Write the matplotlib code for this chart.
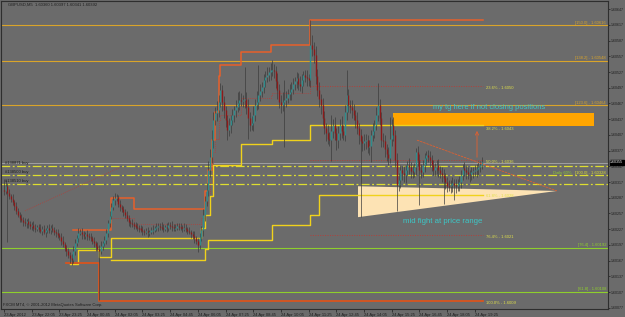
import matplotlib
matplotlib.use("Agg")
import matplotlib.pyplot as plt
from matplotlib.patches import Polygon, Rectangle
import matplotlib.transforms as mtrans
import numpy as np

plt.rcParams['font.family'] = ['Liberation Sans', 'DejaVu Sans']

# ---------------- data (prices in points above 1.60000) ----------------
first_open = 302
closes = [
    300, 310, 296, 290, 285, 278, 272, 262, 255, 248,
    245, 240, 238, 242, 236, 233, 235, 230, 228, 231,
    227, 224, 228, 222, 226, 229, 225, 230, 226, 222,
    220, 216, 213, 205, 198, 192, 185, 178, 172, 168,
    185, 200, 210, 220, 222, 217, 214, 218, 215, 213,
    210, 205, 200, 195, 190, 186, 195, 200, 206, 220,
    238, 252, 270, 283, 287, 288, 275, 270, 266, 260,
    255, 248, 241, 238, 236, 235, 232, 230, 229, 226,
    223, 222, 224, 221, 222, 225, 226, 229, 231, 233,
    232, 230, 228, 231, 230, 235, 233, 231, 229, 230,
    233, 232, 231, 229, 230, 227, 224, 222, 218, 215,
    210, 204, 197, 212, 225, 254, 280, 302, 340, 365,
    397, 435, 448, 454, 470, 493, 470, 454, 435, 416,
    425, 435, 445, 454, 460, 468, 474, 472, 474, 476,
    460, 440, 426, 430, 445, 464, 470, 483, 490, 498,
    512, 518, 522, 527, 530, 531, 528, 510, 493, 470,
    464, 470, 474, 478, 485, 489, 495, 505, 510, 515,
    505, 500, 512, 521, 518, 515, 512, 578, 570, 559,
    520, 493, 475, 464, 440, 420, 410, 400, 397, 415,
    426, 410, 397, 410, 426, 415, 407, 450, 483, 464,
    460, 454, 445, 435, 420, 407, 395, 391, 395, 397,
    384, 386, 407, 415, 426, 445, 464, 440, 397, 395,
    380, 370, 363, 400, 426, 407, 360, 311, 320, 340,
    335, 330, 340, 349, 345, 338, 336, 345, 374, 360,
    340, 336, 350, 362, 369, 365, 359, 350, 340, 345,
    350, 340, 335, 330, 325, 318, 310, 309, 312, 315,
    312, 309, 313, 317, 330, 344, 340, 336, 332, 330,
    336, 338, 340, 342, 346, 350, 355,
]
up_wick = [
    20, 10, 6, 8, 5, 9, 4, 7, 6, 5,
    8, 5, 9, 4, 6, 7, 5, 8, 6, 4,
    6, 9, 5, 7, 4, 6, 8, 5, 7, 6,
    5, 7, 4, 6, 9, 5, 4, 6, 5, 8,
    10, 8, 6, 9, 5, 7, 6, 4, 8, 5,
    6, 5, 8, 4, 7, 6, 9, 5, 8, 7,
    6, 9, 7, 8, 10, 6, 5, 7, 4, 6,
    5, 7, 6, 4, 8, 5, 6, 7, 5, 6,
    7, 5, 6, 8, 4, 6, 9, 5, 7, 6,
    5, 8, 6, 4, 7, 5, 6, 9, 5, 6,
    6, 5, 7, 4, 8, 6, 5, 7, 4, 6,
    8, 5, 6, 7, 9, 12, 10, 14, 18, 15,
    20, 15, 12, 18, 14, 13, 10, 12, 8, 10,
    15, 10, 12, 9, 14, 20, 16, 12, 10, 60,
    12, 15, 10, 14, 18, 12, 20, 57, 14, 10,
    12, 10, 15, 9, 14, 19, 12, 10, 15, 12,
    14, 18, 38, 12, 10, 15, 12, 10, 8, 12,
    10, 14, 12, 8, 10, 12, 9, 49, 20, 15,
    18, 12, 15, 10, 14, 12, 10, 15, 12, 30,
    12, 15, 10, 14, 12, 18, 10, 15, 48, 12,
    10, 14, 12, 9, 15, 10, 12, 10, 14, 12,
    10, 12, 9, 14, 10, 15, 42, 12, 10, 14,
    12, 10, 14, 41, 12, 15, 10, 12, 14, 10,
    8, 12, 10, 9, 14, 10, 12, 9, 8, 12,
    10, 12, 9, 11, 8, 10, 12, 9, 10, 8,
    9, 11, 8, 10, 12, 9, 8, 10, 9, 11,
    8, 10, 9, 12, 10, 8, 11, 9, 10, 8,
    9, 8, 10, 9, 11, 8, 10,
]
dn_wick = [
    8, 6, 93, 5, 7, 4, 9, 6, 5, 8,
    5, 7, 4, 9, 6, 5, 8, 6, 7, 5,
    6, 4, 8, 5, 9, 6, 5, 7, 4, 6,
    7, 5, 6, 8, 5, 7, 9, 6, 9, 10,
    6, 8, 5, 7, 4, 9, 6, 5, 8, 6,
    5, 7, 6, 9, 5, 94, 6, 8, 5, 7,
    8, 6, 5, 7, 9, 6, 5, 8, 6, 7,
    6, 5, 8, 6, 4, 7, 5, 6, 8, 5,
    7, 6, 5, 8, 6, 4, 7, 5, 6, 8,
    6, 5, 7, 4, 8, 6, 5, 7, 6, 5,
    5, 7, 6, 8, 5, 6, 7, 5, 8, 6,
    9, 6, 14, 7, 8, 10, 12, 9, 11, 14,
    12, 15, 10, 14, 12, 10, 18, 15, 12, 19,
    12, 15, 10, 14, 12, 9, 14, 10, 12, 15,
    14, 40, 12, 10, 15, 12, 10, 14, 12, 10,
    12, 14, 10, 12, 15, 10, 12, 14, 18, 12,
    15, 12, 86, 14, 10, 12, 15, 10, 12, 14,
    12, 10, 14, 12, 10, 15, 12, 14, 12, 15,
    15, 12, 14, 18, 15, 12, 14, 10, 12, 40,
    14, 12, 18, 15, 12, 14, 10, 12, 15, 14,
    12, 15, 10, 14, 12, 18, 145, 15, 12, 14,
    12, 15, 30, 12, 14, 10, 12, 15, 14, 12,
    15, 12, 14, 10, 15, 12, 14, 49, 12, 15,
    14, 12, 15, 10, 12, 14, 12, 10, 14, 12,
    66, 12, 10, 14, 12, 10, 14, 12, 10, 12,
    12, 14, 10, 12, 50, 14, 12, 10, 12, 14,
    29, 12, 10, 14, 12, 10, 12, 14, 10, 12,
    10, 12, 10, 14, 12, 10, 8,
]

# stepped indicator lines (bar where a level starts, level in points)
orange_bars = [40, 62, 75, 114, 116, 118, 120, 122, 124, 125, 137, 154, 177, 277]
orange_lvls = [225, 287, 265, 265, 300, 340, 397, 450, 520, 540, 565, 578, 627, 627]
red_low_bars = [36, 55, 277]
red_low_lvls = [163, 90, 90]
yellow_u_bars = [38, 43, 55, 62, 114, 116, 119, 121, 137, 155, 177, 277]
yellow_u_lvls = [160, 187, 174, 210, 230, 254, 290, 350, 389, 397, 426, 426]
yellow_l_bars = [62, 116, 118, 155, 177, 182, 277]
yellow_l_lvls = [168, 190, 206, 235, 254, 293, 293]

# fibonacci retracement (low bar 55 .. high bar 177)
fib_low, fib_high = 90, 627
fib_pcts = [23.6, 38.2, 50.0, 61.8, 76.4, 100.0]
fib_texts = ["23.6% - 1.6050", "38.2% - 1.6043", "50.0% - 1.6036",
             "61.8% - 1.6028", "76.4% - 1.6021", "100.0% - 1.6009"]

# full-width horizontal levels
hl_lvls = [616, 548, 464, 192, 108]
hl_texts = ["[150.0] - 1.60616", "[138.2] - 1.60548", "[123.6] - 1.60464",
            "[76.4] - 1.60192", "[61.8] - 1.60108"]
hl_colors = ['#d9a42a', '#d9a42a', '#d9a42a', '#8fcf2c', '#8fcf2c']
dash_lvls = [348, 330, 313]
bid_lvl = 354
current_price = 355
order_texts = ["#138871 buy", "#138500 buy", "#138510 buy"]

price_ticks = [647 - 30 * k for k in range(20)]
time_labels = ["23 Apr 2012", "23 Apr 22:05", "23 Apr 23:25", "24 Apr 00:45",
               "24 Apr 02:05", "24 Apr 03:25", "24 Apr 04:45", "24 Apr 06:05",
               "24 Apr 07:25", "24 Apr 08:45", "24 Apr 10:05", "24 Apr 11:25",
               "24 Apr 12:45", "24 Apr 14:05", "24 Apr 15:25", "24 Apr 16:45",
               "24 Apr 18:05", "24 Apr 19:25"]
time_label_bars = [16 * k for k in range(len(time_labels))]


def P(v):
    return 1.6 + np.asarray(v, dtype=float) / 1e5


# ---------------- figure ----------------
W, H = 625, 317
BG = '#6b6b6b'
fig = plt.figure(figsize=(W / 100, H / 100), dpi=100, facecolor=BG)
ax = fig.add_axes([1 / W, (H - 309) / H, 607 / W, 308 / H])
ax.set_facecolor(BG)
BPX = 1.731
ax.set_xlim((1 - 4) / BPX, (608 - 4) / BPX)
ax.set_ylim(float(P(90 - 8 * 1.9084)), float(P(90 + 300 * 1.9084)))
for s in ax.spines.values():
    s.set_color('#2e2e2e')
    s.set_linewidth(0.8)

XR = (606 - 4) / BPX  # right text anchor in bars

# full-width levels
for lv, tx, c in zip(hl_lvls, hl_texts, hl_colors):
    ax.axhline(P(lv), color=c, lw=0.8, zorder=2)
    ax.text(XR, P(lv + 1), tx, color=c, fontsize=3, ha='right', va='bottom', zorder=6)
ax.axhline(P(bid_lvl), color='#a9a9a9', lw=0.6, zorder=2)
for lv in dash_lvls:
    ax.axhline(P(lv), color='#dede30', lw=0.9, ls=(0, (7, 2, 1.5, 2)), zorder=2)
ax.text(XR, P(dash_lvls[1] + 1), "[100.0] - 1.60328", color='#dede30', fontsize=3,
        ha='right', va='bottom', zorder=6)
ax.text(XR - 20, P(dash_lvls[1] + 1), "Daily 60%", color='#8fcf2c', fontsize=3,
        ha='right', va='bottom', zorder=6)
for lv, tx in zip(dash_lvls, order_texts):
    ax.text(0.6, P(lv + 2), tx, color='#1e1e1e', fontsize=3, ha='left', va='bottom', zorder=6)

# objects behind candles
ax.add_patch(Rectangle(((393 - 4) / BPX, P(424)), (594 - 393) / BPX, P(449) - P(424),
                       facecolor='#ffa500', edgecolor='none', zorder=1))
ax.add_patch(Polygon([((358 - 4) / BPX, P(309)), ((358 - 4) / BPX, P(250)),
                      ((557 - 4) / BPX, P(300))], closed=True,
                     facecolor='#fde3b4', edgecolor='none', zorder=1))

# fib lines
fib_price = [fib_high - p / 100 * (fib_high - fib_low) for p in fib_pcts]
for pc, fp in zip(fib_pcts, fib_price):
    if pc in (23.6, 50.0, 76.4):
        ax.plot([177, 277], P([fp, fp]), color='#b3403a', lw=0.7, ls=(0, (1, 1.5)), zorder=2)
for fp, tx in zip(fib_price, fib_texts):
    ax.text(278.5, P(fp - 4), tx, color='#e0e04a', fontsize=3, ha='left', va='center', zorder=6)


def stepline(bars, lvls, **kw):
    ax.step(bars, P(lvls), where='post', **kw)


# dotted mid line between orange and upper yellow
mb = np.arange(62, 178)
o_at = np.array(orange_lvls)[np.searchsorted(orange_bars, mb, side='right') - 1]
y_at = np.array(yellow_u_lvls)[np.searchsorted(yellow_u_bars, mb, side='right') - 1]
ax.step(mb, P((o_at + y_at) / 2), where='post', color='#b3403a', lw=0.6, ls=(0, (1, 1.5)), zorder=2)
ax.plot([(25 - 4) / BPX, (120 - 4) / BPX], P([262, 345]), color='#b3403a', lw=0.6,
        ls=(0, (1, 1.5)), zorder=2)

stepline(yellow_l_bars, yellow_l_lvls, color='#f0d21c', lw=1.0, zorder=3)
stepline(yellow_u_bars, yellow_u_lvls, color='#f0d21c', lw=1.0, zorder=3)
stepline(orange_bars, orange_lvls, color='#e8602a', lw=1.1, zorder=3)
stepline(red_low_bars, red_low_lvls, color='#d9541e', lw=1.3, zorder=3)

# candles
c = np.array(closes, dtype=float)
o = np.array([first_open] + closes[:-1], dtype=float)
x = np.arange(len(c))
hi = np.maximum(o, c) + np.array(up_wick)
lo = np.minimum(o, c) - np.array(dn_wick)
ax.vlines(x, P(lo), P(hi), color='#3d3d3d', lw=0.5, zorder=4)
up = c >= o
bt = np.maximum(o, c)
bb = np.minimum(o, c)
bb = np.where(bt - bb < 2, bt - 2, bb)
ax.vlines(x[up], P(bb[up]), P(bt[up]), color='#2f8c8c', lw=1.0, zorder=5)
ax.vlines(x[~up], P(bb[~up]), P(bt[~up]), color='#8c1a1a', lw=1.0, zorder=5)

# annotations
ax.plot([(417 - 4) / BPX, (557 - 4) / BPX], P([397, 300]), color='#e06030', lw=0.6,
        ls=(0, (3, 1)), zorder=6)
ax.annotate('', xy=((477 - 4) / BPX, P(420)), xytext=((477 - 4) / BPX, P(359)),
            arrowprops=dict(arrowstyle='->', color='#e06030', lw=0.6, mutation_scale=6), zorder=6)
ax.text((433 - 4) / BPX, P(460), "my tg here if not closing positions", color='#3cc8c8',
        fontsize=5.4, ha='left', va='center', zorder=7)
ax.text((403 - 4) / BPX, P(241), "mid fight at price range", color='#3cc8c8',
        fontsize=5.6, ha='left', va='center', zorder=7)

# axes ticks
ax.yaxis.tick_right()
ax.set_yticks(P(price_ticks))
ax.set_yticklabels([f"{v:.5f}" for v in P(price_ticks)])
ax.tick_params(axis='y', labelsize=2.6, colors='#1e1e1e', length=1.5, width=0.5, pad=0.6)
ax.set_xticks(time_label_bars)
ax.set_xticklabels(time_labels, ha='left')
ax.tick_params(axis='x', labelsize=3, colors='#1e1e1e', length=2, width=0.5, pad=1)

# current price box
tr = mtrans.blended_transform_factory(ax.transAxes, ax.transData)
ax.text(1.0035, P(current_price), f"{float(P(current_price)):.5f}", transform=tr, fontsize=2.6,
        color='white', ha='left', va='center', clip_on=False, zorder=8,
        bbox=dict(boxstyle='square,pad=0.15', facecolor='black', edgecolor='black'))

fig.text(8 / W, 1 - 5 / H, "GBPUSD,M5  1.60360 1.60397 1.60341 1.60392", fontsize=3,
         color='#1e1e1e', ha='left', va='center')
fig.text(3 / W, 1 - 305 / H, "FXCM MT4, \u00a9 2001-2012 MetaQuotes Software Corp.",
         fontsize=3, color='#1e1e1e', ha='left', va='center')

fig.savefig("out.png", dpi=100, facecolor=BG)
